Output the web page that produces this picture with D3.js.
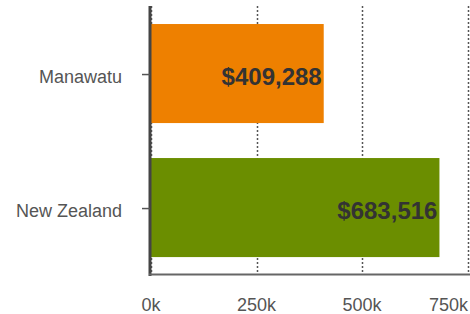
<!DOCTYPE html>
<html><head><meta charset="utf-8">
<script src="https://cdn.jsdelivr.net/npm/d3@7"></script>
<style>body{margin:0;background:#fff;}svg{display:block;font-family:"Liberation Sans",Arial,sans-serif;}</style>
</head><body><svg id="c" width="470" height="314"></svg>
<script>
const categories = ["Manawatu", "New Zealand"];
const values = [409288, 683516];
const colors = ["#EE8000", "#6B8E00"];
const ticks = [0, 250000, 500000, 750000];
const tickLabels = ["0k", "250k", "500k", "750k"];

(function () {
const svg = d3.select("#c");
const W = 470, H = 314;
const plotTop = 6, plotBottom = 274;
const x = d3.scaleLinear().domain([0, 750000]).range([151, 151 + 316.5]);
const y = d3.scaleBand().domain(categories).range([6.6, 274.5]).paddingInner(0.261).paddingOuter(0.13);

// gridlines
svg.append("g").selectAll("line").data(ticks).join("line")
  .attr("x1", d => Math.round(x(d)) + 0.5).attr("x2", d => Math.round(x(d)) + 0.5)
  .attr("y1", plotTop).attr("y2", plotBottom)
  .attr("stroke", "#555").attr("stroke-width", 1.5).attr("stroke-dasharray", "2,2");

// bars
svg.append("g").selectAll("rect").data(categories).join("rect")
  .attr("x", x(0)).attr("y", d => y(d))
  .attr("width", (d, i) => x(values[i]) - x(0))
  .attr("height", y.bandwidth())
  .attr("fill", (d, i) => colors[i]);

// value labels
svg.append("g").selectAll("text").data(categories).join("text")
  .attr("x", (d, i) => x(values[i]) - 2)
  .attr("y", d => y(d) + y.bandwidth() / 2 + 3)
  .attr("dy", "0.35em").attr("text-anchor", "end")
  .attr("font-size", 24).attr("font-weight", "bold").attr("fill", "#333")
  .text((d, i) => "$" + d3.format(",")(values[i]));

// left axis line
svg.append("line").attr("x1", 150).attr("x2", 150).attr("y1", plotTop).attr("y2", plotBottom + 2)
  .attr("stroke", "#444").attr("stroke-width", 3);
// bottom axis line
svg.append("line").attr("x1", 149).attr("x2", W).attr("y1", plotBottom + 0.5).attr("y2", plotBottom + 0.5)
  .attr("stroke", "#666").attr("stroke-width", 2);

// category ticks and labels
const yl = svg.append("g");
yl.selectAll("line").data(categories).join("line")
  .attr("x1", 142).attr("x2", 150)
  .attr("y1", d => y(d) + y.bandwidth() / 2 + 1).attr("y2", d => y(d) + y.bandwidth() / 2 + 1)
  .attr("stroke", "#555").attr("stroke-width", 1.5);
yl.selectAll("text").data(categories).join("text")
  .attr("x", 122).attr("y", d => y(d) + y.bandwidth() / 2 + 3)
  .attr("dy", "0.35em").attr("text-anchor", "end")
  .attr("font-size", 18).attr("fill", "#555").text(d => d);

// x tick labels
svg.append("g").selectAll("text").data(ticks).join("text")
  .attr("x", (d, i) => i === ticks.length - 1 ? W - 2 : x(d))
  .attr("y", 311)
  .attr("text-anchor", (d, i) => i === ticks.length - 1 ? "end" : "middle")
  .attr("font-size", 18).attr("fill", "#555")
  .text((d, i) => tickLabels[i]);
})();
</script></body></html>
